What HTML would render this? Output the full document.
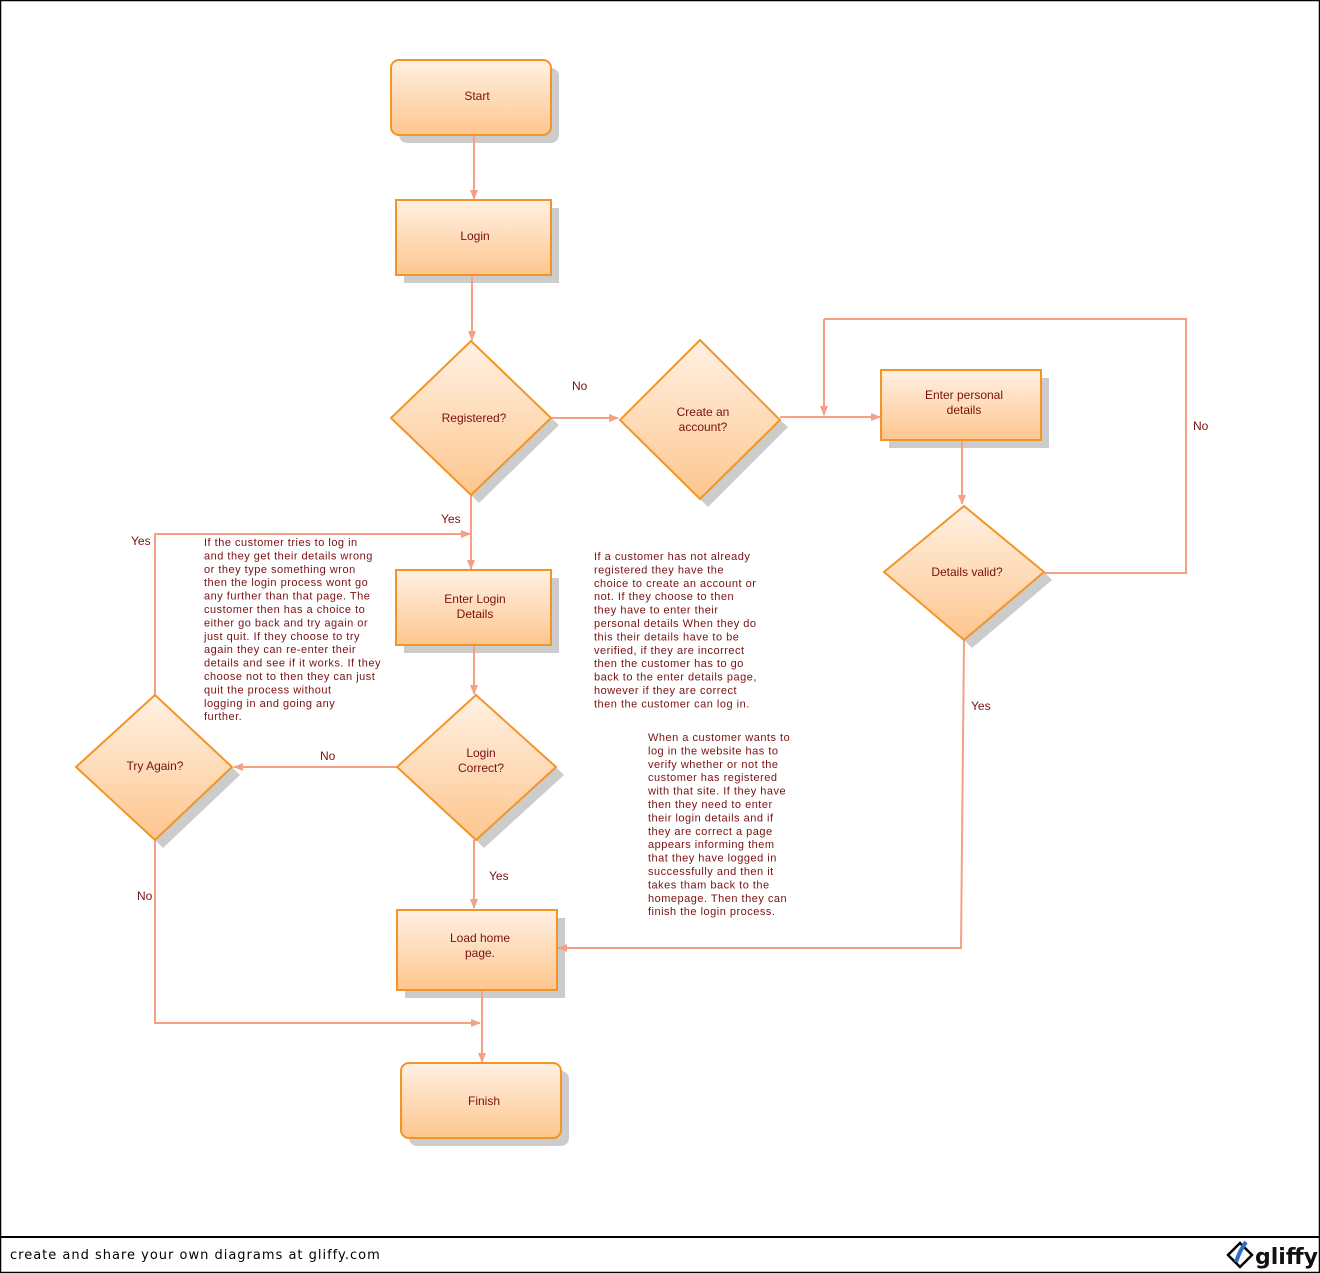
<!DOCTYPE html>
<html><head><meta charset="utf-8"><style>
html,body{margin:0;padding:0;background:#fff}
svg{display:block}
text{font-family:"Liberation Sans","DejaVu Sans",sans-serif;fill:#7a1010}
.n{font-size:12px;text-anchor:middle}
.p{font-size:11px;letter-spacing:0.5px}
.l{font-size:12px}
</style></head><body>
<svg width="1320" height="1273" viewBox="0 0 1320 1273" xmlns="http://www.w3.org/2000/svg">
<defs>
<linearGradient id="g" x1="0" y1="0" x2="0" y2="1"><stop offset="0" stop-color="#fff1e3"/><stop offset="1" stop-color="#fdc68e"/></linearGradient>
<marker id="a" markerWidth="10" markerHeight="10" refX="9" refY="5" orient="auto" markerUnits="userSpaceOnUse"><path d="M0,1 L10,5 L0,9 Z" fill="#f4a087"/></marker>
</defs>
<rect x="0.5" y="0.5" width="1319" height="1272" fill="#fff" stroke="#000" stroke-width="1.5"/>
<line x1="0" y1="1237" x2="1320" y2="1237" stroke="#000" stroke-width="2"/>
<text x="10" y="1259" style="font-family:'DejaVu Sans',sans-serif;font-size:13px;fill:#000;letter-spacing:1px">create and share your own diagrams at gliffy.com</text>
<path d="M1228,1255 L1240,1243 L1252,1255 L1240,1267 Z" fill="none" stroke="#000" stroke-width="2.5"/>
<path d="M1236,1262 Q1240,1250 1246,1242" fill="none" stroke="#2d6fc9" stroke-width="4"/>
<text x="1255" y="1264" style="font-family:'DejaVu Sans',sans-serif;font-size:22px;font-weight:bold;fill:#111">gliffy</text>

<!-- shadows -->
<g fill="#cccccc">
<rect x="399" y="68" width="160" height="75" rx="8"/>
<rect x="404" y="208" width="155" height="75"/>
<path d="M559,425 L479,503 L471,495 L551,418 Z"/>
<path d="M788,427 L708,507 L700,499 L780,420 Z"/>
<rect x="889" y="378" width="160" height="70"/>
<path d="M1052,580 L972,648 L964,640 L1044,572 Z"/>
<rect x="404" y="578" width="155" height="75"/>
<path d="M564,775 L484,848 L476,840 L556,767 Z"/>
<path d="M240,775 L163,848 L155,840 L232,767 Z"/>
<rect x="405" y="918" width="160" height="80"/>
<rect x="409" y="1071" width="160" height="75" rx="8"/>
</g>

<g fill="none" stroke="#f4a087" stroke-width="2">
<line x1="474" y1="136" x2="474" y2="199" marker-end="url(#a)"/>
<line x1="472" y1="276" x2="472" y2="340" marker-end="url(#a)"/>
<line x1="551" y1="418" x2="618" y2="418" marker-end="url(#a)"/>
<line x1="780" y1="417" x2="880" y2="417" marker-end="url(#a)"/>
<line x1="824" y1="319" x2="824" y2="415" marker-end="url(#a)"/>
<polyline points="824,319 1186,319 1186,573 1044,573"/>
<line x1="962" y1="441" x2="962" y2="504" marker-end="url(#a)"/>
<polyline points="964,640 961,948 558,948" marker-end="url(#a)"/>
<line x1="471" y1="495" x2="471" y2="569" marker-end="url(#a)"/>
<polyline points="155,696 155,534 470,534" marker-end="url(#a)"/>
<line x1="474" y1="646" x2="474" y2="694" marker-end="url(#a)"/>
<line x1="397" y1="767" x2="234" y2="767" marker-end="url(#a)"/>
<line x1="474" y1="840" x2="474" y2="908" marker-end="url(#a)"/>
<polyline points="155,840 155,1023 480,1023" marker-end="url(#a)"/>
<line x1="482" y1="991" x2="482" y2="1062" marker-end="url(#a)"/>
</g>

<g fill="url(#g)" stroke="#f39526" stroke-width="2">
<rect x="391" y="60" width="160" height="75" rx="8"/>
<rect x="396" y="200" width="155" height="75"/>
<path d="M471,341 L551,418 L471,495 L391,418 Z"/>
<path d="M700,340 L780,420 L700,499 L620,420 Z"/>
<rect x="881" y="370" width="160" height="70"/>
<path d="M964,506 L1044,572 L964,640 L884,572 Z"/>
<rect x="396" y="570" width="155" height="75"/>
<path d="M476,695 L556,767 L476,840 L397,767 Z"/>
<path d="M155,695 L232,767 L155,840 L76,767 Z"/>
<rect x="397" y="910" width="160" height="80"/>
<rect x="401" y="1063" width="160" height="75" rx="8"/>
</g>

<text class="n" x="477" y="100">Start</text>
<text class="n" x="475" y="240">Login</text>
<text class="n" x="474" y="422">Registered?</text>
<text class="n" x="703" y="416">Create an</text>
<text class="n" x="703" y="431">account?</text>
<text class="n" x="964" y="399">Enter personal</text>
<text class="n" x="964" y="414">details</text>
<text class="n" x="967" y="576">Details valid?</text>
<text class="n" x="475" y="603">Enter Login</text>
<text class="n" x="475" y="618">Details</text>
<text class="n" x="481" y="757">Login</text>
<text class="n" x="481" y="772">Correct?</text>
<text class="n" x="155" y="770">Try Again?</text>
<text class="n" x="480" y="942">Load home</text>
<text class="n" x="480" y="957">page.</text>
<text class="n" x="484" y="1105">Finish</text>

<text class="l" x="572" y="390">No</text>
<text class="l" x="1193" y="430">No</text>
<text class="l" x="971" y="710">Yes</text>
<text class="l" x="441" y="523">Yes</text>
<text class="l" x="131" y="545">Yes</text>
<text class="l" x="320" y="760">No</text>
<text class="l" x="489" y="880">Yes</text>
<text class="l" x="137" y="900">No</text>

<text class="p" x="204" y="546">
<tspan x="204">If the customer tries to log in</tspan>
<tspan x="204" dy="13.4">and they get their details wrong</tspan>
<tspan x="204" dy="13.4">or they type something wron</tspan>
<tspan x="204" dy="13.4">then the login process wont go</tspan>
<tspan x="204" dy="13.4">any further than that page. The</tspan>
<tspan x="204" dy="13.4">customer then has a choice to</tspan>
<tspan x="204" dy="13.4">either go back and try again or</tspan>
<tspan x="204" dy="13.4">just quit. If they choose to try</tspan>
<tspan x="204" dy="13.4">again they can re-enter their</tspan>
<tspan x="204" dy="13.4">details and see if it works. If they</tspan>
<tspan x="204" dy="13.4">choose not to then they can just</tspan>
<tspan x="204" dy="13.4">quit the process without</tspan>
<tspan x="204" dy="13.4">logging in and going any</tspan>
<tspan x="204" dy="13.4">further.</tspan>
</text>
<text class="p" x="594" y="560">
<tspan x="594">If a customer has not already</tspan>
<tspan x="594" dy="13.4">registered they have the</tspan>
<tspan x="594" dy="13.4">choice to create an account or</tspan>
<tspan x="594" dy="13.4">not. If they choose to then</tspan>
<tspan x="594" dy="13.4">they have to enter their</tspan>
<tspan x="594" dy="13.4">personal details When they do</tspan>
<tspan x="594" dy="13.4">this their details have to be</tspan>
<tspan x="594" dy="13.4">verified, if they are incorrect</tspan>
<tspan x="594" dy="13.4">then the customer has to go</tspan>
<tspan x="594" dy="13.4">back to the enter details page,</tspan>
<tspan x="594" dy="13.4">however if they are correct</tspan>
<tspan x="594" dy="13.4">then the customer can log in.</tspan>
</text>
<text class="p" x="648" y="741">
<tspan x="648">When a customer wants to</tspan>
<tspan x="648" dy="13.4">log in the website has to</tspan>
<tspan x="648" dy="13.4">verify whether or not the</tspan>
<tspan x="648" dy="13.4">customer has registered</tspan>
<tspan x="648" dy="13.4">with that site. If they have</tspan>
<tspan x="648" dy="13.4">then they need to enter</tspan>
<tspan x="648" dy="13.4">their login details and if</tspan>
<tspan x="648" dy="13.4">they are correct a page</tspan>
<tspan x="648" dy="13.4">appears informing them</tspan>
<tspan x="648" dy="13.4">that they have logged in</tspan>
<tspan x="648" dy="13.4">successfully and then it</tspan>
<tspan x="648" dy="13.4">takes tham back to the</tspan>
<tspan x="648" dy="13.4">homepage. Then they can</tspan>
<tspan x="648" dy="13.4">finish the login process.</tspan>
</text>
</svg>
</body></html>
